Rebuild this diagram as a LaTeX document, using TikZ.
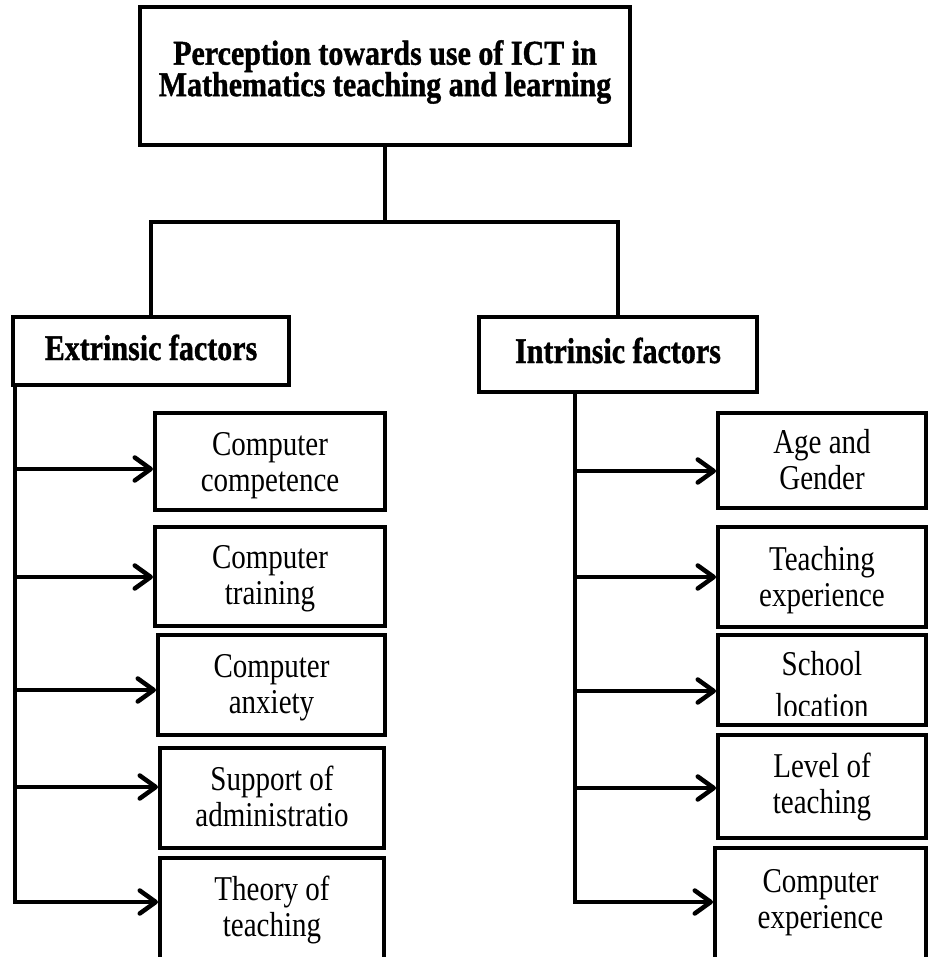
\documentclass[tikz,border=0pt]{standalone}
\usepackage{fontspec}
\setmainfont{Liberation Serif}[BoldFeatures={FakeBold=1.2}]
\usetikzlibrary{arrows.meta}
\newcommand\two[3][]{\scalebox{1}[1.2]{\begin{tabular}{@{}c@{}}#2\\#1#3\end{tabular}}}
\begin{document}
\begin{tikzpicture}[x=1pt,y=-1pt,
  box/.style={draw, line width=4pt, inner sep=0pt},
  hbox/.style={draw, line width=4.5pt, inner sep=0pt},
  txt/.style={inner sep=0pt, anchor=north, font=\fontsize{29}{30.5}\selectfont},
  htxt/.style={inner sep=0pt, anchor=base, font=\fontsize{30}{22.9}\selectfont\bfseries},
  conn/.style={line width=4.5pt},
  arr/.style={line width=4.5pt, -{Straight Barb[length=16pt,width=23pt,round]}},
]
\useasboundingbox (0,0) rectangle (934,957);
\clip (0,0) rectangle (934,957);

% heads
\node[hbox, minimum width=490pt, minimum height=138pt] (top) at (385,76) {};
\node[htxt, anchor=north] (topt) at (top |- 0,40)
  {\scalebox{1}[1.16]{\begin{tabular}{@{}c@{}}Perception towards use of ICT in\\[-0.6pt]Mathematics teaching and learning\end{tabular}}};
\node[hbox, minimum width=276pt, minimum height=68pt] (ext) at (151,351) {};
\node[htxt] (extt) at (ext |- 0,360) {\scalebox{1}[1.2]{Extrinsic factors}};
\node[hbox, minimum width=278pt, minimum height=75pt] (int) at (618,354.5) {};
\node[htxt] (intt) at (int |- 0,363) {\scalebox{1}[1.2]{Intrinsic factors}};

% left boxes
\node[box, minimum width=230pt, minimum height=97pt] (l1) at (270,461.5) {};
\node[txt] (l1t) at (l1 |- 0,429.4) {\two{Computer}{competence}};
\node[box, minimum width=230pt, minimum height=99pt] (l2) at (270,576.5) {};
\node[txt] (l2t) at (l2 |- 0,542.4) {\two{Computer}{training}};
\node[box, minimum width=227pt, minimum height=100pt] (l3) at (271.5,685) {};
\node[txt] (l3t) at (l3 |- 0,651.4) {\two{Computer}{anxiety}};
\node[box, minimum width=224pt, minimum height=100pt] (l4) at (272,798) {};
\node[txt] (l4t) at (l4 |- 0,764.4) {\two{Support of}{administratio}};
\node[box, minimum width=224pt, minimum height=105pt] (l5) at (272,910.5) {};
\node[txt] (l5t) at (l5 |- 0,874.4) {\two{Theory of}{teaching}};

% right boxes
\node[box, minimum width=208pt, minimum height=95pt] (r1) at (822,460.5) {};
\node[txt] (r1t) at (r1 |- 0,427.4) {\two{Age and}{Gender}};
\node[box, minimum width=208pt, minimum height=100pt] (r2) at (822,577) {};
\node[txt] (r2t) at (r2 |- 0,544.4) {\two{Teaching}{experience}};
\node[box, minimum width=208pt, minimum height=90pt] (r3) at (822,680) {};
\begin{scope}
  \clip (r3.north west) rectangle ([yshift=12pt]r3.south east);
  \node[txt] (r3t) at (r3 |- 0,649.4) {\two[{[5pt]}]{School}{location}};
\end{scope}
\node[box, minimum width=208pt, minimum height=103pt] (r4) at (822,786.5) {};
\node[txt] (r4t) at (r4 |- 0,751.4) {\two{Level of}{teaching}};
\node[box, minimum width=211pt, minimum height=117pt] (r5) at (820.5,906.5) {};
\node[txt] (r5t) at (r5 |- 0,866.4) {\two{Computer}{experience}};

% top connectors
\draw[conn] (top.south) -- (top.south |- 0,222);
\draw[conn] (ext.north) |- (top.south |- 0,222) -| (int.north);

% left trunk and arrows
\coordinate (LT) at ([xshift=4pt]ext.south west);
\draw[arr] (LT) |- (l5.west |- 0,902);
\draw[arr] (LT |- 0,469) -- (l1.west |- 0,469);
\draw[arr] (LT |- 0,577) -- (l2.west |- 0,577);
\draw[arr] (LT |- 0,690) -- (l3.west |- 0,690);
\draw[arr] (LT |- 0,787) -- (l4.west |- 0,787);

% right trunk and arrows
\coordinate (RT) at ([xshift=98pt]int.south west);
\draw[arr] (RT) |- (r5.west |- 0,902);
\draw[arr] (RT |- 0,471) -- (r1.west |- 0,471);
\draw[arr] (RT |- 0,577) -- (r2.west |- 0,577);
\draw[arr] (RT |- 0,691) -- (r3.west |- 0,691);
\draw[arr] (RT |- 0,788) -- (r4.west |- 0,788);
\end{tikzpicture}
\end{document}
